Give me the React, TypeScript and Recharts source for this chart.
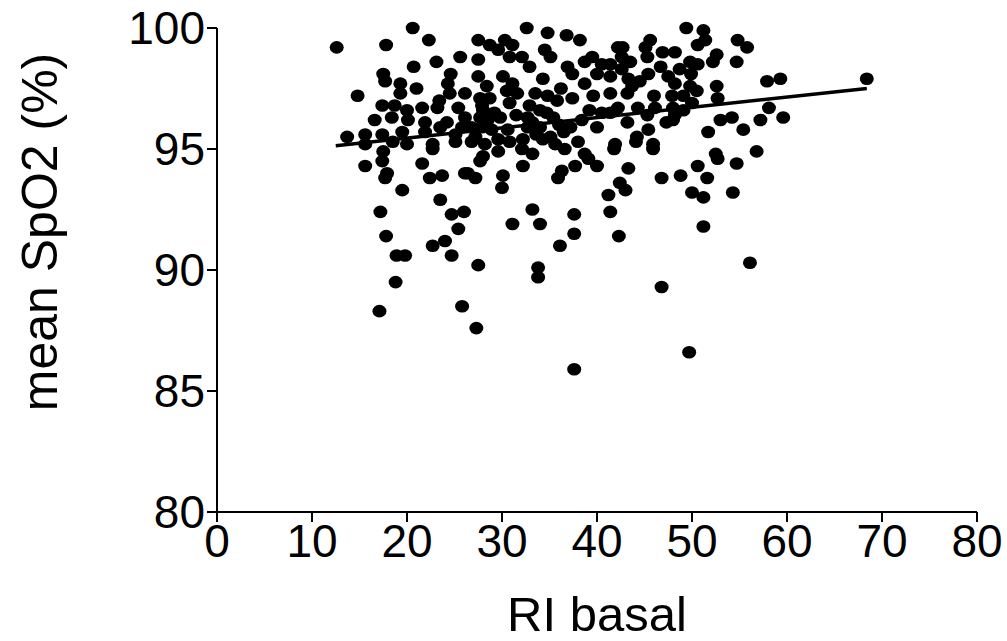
import { ScatterChart, Scatter, XAxis, YAxis, ReferenceLine } from 'recharts'

// RI basal (x) and mean SpO2 (y)
const riBasal = [
  12.6, 20.6, 17.8, 22.3, 25.6, 23.1, 20.7, 24.6, 17.5, 17.7, 19.3, 19.3, 24.3, 24.5, 14.8, 26.1, 17.4, 18.7, 21.6, 23.2,
  25.4, 16.6, 18.4, 20.1, 21.9, 24.2, 26.1, 13.7, 15.6, 17.4, 19.5, 21.9, 23.5, 25.1,
  15.6, 18.5, 20.0, 22.7, 25.1, 17.5, 17.4, 22.7, 15.6, 17.9, 17.7, 21.6, 22.4, 23.7, 26.1, 19.5, 23.5, 17.2, 24.7, 26.0,
  25.4, 17.8, 22.7, 24.0, 18.9, 19.8, 24.7,
  18.8, 17.1, 25.8, 27.5, 33.8, 33.8, 27.3, 37.6, 46.8, 49.7, 56.1, 56.8,
  41.8, 44.1, 45.9, 52.5, 52.7, 54.7, 43.3, 50.6, 46.8, 48.8, 51.6, 42.4, 43.0, 41.2, 50.0, 51.2, 54.3, 41.4, 51.2, 42.3,
  34.3, 35.6, 36.6, 27.7, 28.0, 29.6, 32.1, 33.2, 38.7, 39.1, 37.7, 40.0, 32.2, 26.4, 27.2, 30.1, 36.3, 35.9, 30.0,
  33.2, 31.1, 34.0, 37.6, 37.6, 36.1,
  32.6, 34.8, 36.8, 38.2, 27.5, 28.7, 30.3, 31.1, 29.6, 34.5, 35.1, 39.5, 27.5, 30.8, 32.1, 32.9, 36.9, 37.4, 38.7, 40.5,
  27.5, 30.1, 34.3, 40.0, 28.4, 31.1, 38.7, 27.7, 28.7, 31.6, 33.5, 34.8, 35.8, 39.6, 37.4, 27.9, 30.8, 32.9, 34.0, 34.7,
  40.5, 27.7, 28.5, 29.8, 32.7, 35.4, 26.8, 27.9, 28.9, 30.6, 32.7, 34.0, 40.0, 32.2, 35.1, 29.6, 26.8,
  49.4, 51.2, 51.4, 50.6, 54.8, 55.8, 45.6, 45.1, 42.2, 42.7, 45.3, 46.9, 48.2, 49.8, 52.6, 52.2, 54.7, 42.6, 43.5, 41.4,
  42.6, 48.7, 41.4, 43.3, 43.7, 45.4, 47.5, 48.2, 49.9, 52.6, 41.4, 43.2, 46.0, 47.9, 49.1, 50.5, 49.8, 52.7, 42.2, 44.3,
  46.1, 48.0, 48.2, 49.1, 41.4, 45.3, 43.2, 48.0, 45.4, 44.2, 51.7, 53.0, 54.2, 55.4, 41.9, 45.9,
  57.9, 59.3, 68.4, 58.1, 57.2, 59.6,
  28.0, 29.2, 31.5, 33.2, 36.0, 37.2, 38.4, 39.2, 30.5, 36.2, 25.8, 27.2, 28.2, 30.8, 33.6, 36.5, 38.0, 44.5, 46.7, 50.6,
  47.3, 50.0, 23.4, 21.0, 20.0,
]

const meanSpO2 = [
  99.2, 100.0, 99.3, 99.5, 98.8, 98.6, 98.4, 98.1, 98.1, 97.8, 97.7, 97.3, 97.7, 97.3, 97.2, 97.3, 96.8, 96.8, 96.7, 96.7,
  96.7, 96.2, 96.3, 96.2, 96.1, 96.1, 96.3, 95.5, 95.6, 95.6, 95.7, 95.7, 95.9, 95.6,
  95.2, 95.3, 95.2, 95.2, 95.3, 94.9, 94.5, 95.0, 94.3, 94.0, 93.8, 94.4, 93.8, 93.9, 94.0, 93.3, 92.9, 92.4, 92.3, 92.4,
  91.7, 91.4, 91.0, 91.2, 90.6, 90.6, 90.6,
  89.5, 88.3, 88.5, 90.2, 90.1, 89.7, 87.6, 85.9, 89.3, 86.6, 90.3, 94.9,
  95.0, 95.3, 95.0, 94.8, 94.6, 94.4, 94.2, 94.3, 93.8, 93.9, 93.8, 93.6, 93.3, 93.1, 93.2, 93.0, 93.2, 92.4, 91.8, 91.4,
  95.4, 95.2, 95.0, 94.5, 94.7, 94.9, 95.0, 94.8, 94.8, 94.6, 94.3, 94.3, 94.3, 94.0, 93.8, 93.9, 94.1, 93.8, 93.4,
  92.5, 91.9, 91.9, 92.3, 91.5, 91.0,
  100.0, 99.8, 99.7, 99.5, 99.5, 99.3, 99.5, 99.3, 99.1, 99.1, 98.8, 98.8, 98.7, 98.8, 98.8, 98.4, 98.4, 98.1, 98.6, 98.5,
  98.0, 98.0, 97.9, 98.1, 97.6, 97.7, 97.7, 97.1, 97.1, 97.3, 97.3, 97.2, 97.0, 97.2, 97.1, 96.8, 96.9, 96.8, 96.6, 96.5,
  96.5, 96.3, 96.2, 96.3, 96.3, 96.3, 95.9, 95.9, 95.8, 95.8, 95.9, 95.9, 95.9, 95.4, 95.5, 95.4, 95.3,
  100.0, 99.9, 99.5, 99.3, 99.5, 99.2, 99.5, 99.2, 99.2, 99.2, 98.8, 99.0, 99.0, 98.6, 98.9, 98.6, 98.6, 98.8, 98.6, 98.5,
  98.3, 98.3, 98.0, 97.9, 97.6, 98.1, 98.0, 97.7, 98.1, 97.6, 97.3, 97.3, 97.2, 97.2, 97.2, 97.4, 97.6, 97.1, 96.7, 96.7,
  96.7, 96.7, 96.4, 96.6, 96.5, 96.4, 96.1, 96.2, 95.8, 95.5, 95.7, 96.2, 96.3, 95.8, 95.2, 95.2,
  97.8, 97.9, 97.9, 96.7, 96.2, 96.3,
  96.6, 96.5, 96.4, 96.1, 96.0, 95.9, 96.2, 96.6, 97.4, 97.5, 95.9, 95.5, 95.2, 95.3, 95.6, 95.7, 95.3, 97.8, 98.4, 98.5,
  96.1, 96.9, 97.0, 97.5, 96.6,
]

// linear fit drawn across the data range
const fitX = [12.5, 68.4]
const fitY = [95.13, 97.5]

const xTicks = [0, 10, 20, 30, 40, 50, 60, 70, 80]
const yTicks = [80, 85, 90, 95, 100]

const points = riBasal.map((x, i) => ({ x, y: meanSpO2[i] }))

const FONT = '"Liberation Sans", Arial, sans-serif'

const Dot = (props: any) => <ellipse cx={props.cx} cy={props.cy} rx={7} ry={6.3} fill="#000" />

const YTitle = ({ viewBox }: any) => {
  const x = 40
  const y = viewBox.y + viewBox.height / 2 - 38
  return (
    <text x={x} y={y} transform={`rotate(-90 ${x} ${y})`} textAnchor="middle" dominantBaseline="central"
      fontSize={50} fontFamily={FONT} fill="#000">
      mean SpO2 (%)
    </text>
  )
}

export default function App() {
  return (
    <div style={{ position: 'absolute', left: 0, top: 0, background: '#fff' }}>
      <ScatterChart width={1007} height={641} margin={{ top: 28, right: 30, bottom: 0, left: 0 }}>
        <XAxis
          type="number"
          dataKey="x"
          domain={[0, 80]}
          ticks={xTicks}
          height={129}
          tickSize={10}
          tickMargin={2}
          stroke="#000"
          strokeWidth={2}
          tick={{ fill: '#000', fontSize: 46, fontFamily: FONT }}
          label={{ value: 'RI basal', position: 'insideBottom', offset: 10, fontSize: 49, fontFamily: FONT, fill: '#000' }}
        />
        <YAxis
          type="number"
          dataKey="y"
          domain={[80, 100]}
          ticks={yTicks}
          width={217}
          tickSize={10}
          tickMargin={2}
          stroke="#000"
          strokeWidth={2}
          tick={{ fill: '#000', fontSize: 46, fontFamily: FONT }}
          label={{ content: <YTitle /> }}
        />
        <Scatter data={points} shape={<Dot />} isAnimationActive={false} />
        <ReferenceLine
          segment={[{ x: fitX[0], y: fitY[0] }, { x: fitX[1], y: fitY[1] }]}
          stroke="#000"
          strokeWidth={3.5}
        />
      </ScatterChart>
    </div>
  )
}
